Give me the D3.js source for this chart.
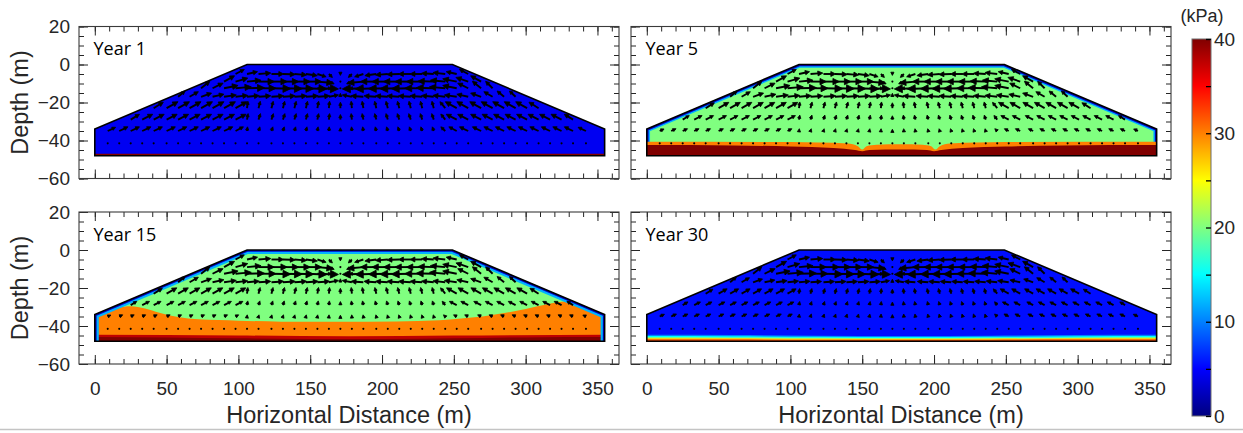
<!DOCTYPE html>
<html><head><meta charset="utf-8">
<script src="https://cdn.jsdelivr.net/npm/d3@7"></script>
<style>body{margin:0;background:#fff;} svg{display:block}</style>
</head><body>
<svg id="chart" width="1243" height="433"></svg>
<script>
// ================= DATA =================
const panelTitles = ["Year 1", "Year 5", "Year 15", "Year 30"];
const xTicks = [0, 50, 100, 150, 200, 250, 300, 350];
const xMinorTicks = [0,10,20,30,40,50,60,70,80,90,100,110,120,130,140,150,160,170,180,190,200,210,220,230,240,250,260,270,280,290,300,310,320,330,340,350,360];
const yTicks = [20, 0, -20, -40, -60];
const yMinorTicks = [20,15,10,5,0,-5,-10,-15,-20,-25,-30,-35,-40,-45,-50,-55,-60];
const cbTicks = [0, 10, 20, 30, 40];
const cbMinorTicks = [0,5,10,15,20,25,30,35,40];

// embankment cross-section (m)
const shapeX = [0, 0, 106, 249, 355, 355];
const shapeD = [-48, -34, 0, 0, -34, -48];

// background pore pressure of each panel (kPa)
const baseValue = [4.5, 20, 20, 5.5];
const drainedEdge = [false, true, true, false];

// Year 1 bands
const y1RedX = [0, 355];
const y1RedD = [-47.0, -47.0];
// Year 5 bands
const y5OrangeX = [0, 100, 140, 147, 150, 153, 160, 177, 192, 198, 201, 204, 211, 250, 355];
const y5OrangeD = [-40.6, -40.8, -41.6, -43, -44.8, -43, -42.2, -42, -42.2, -43, -44.8, -43, -41.6, -40.8, -40.6];
const y5RedX = [0, 60, 100, 130, 145, 150, 155, 177, 195, 200, 205, 220, 250, 290, 355];
const y5RedD = [-42.4, -42.6, -43.2, -44, -45, -45.6, -45, -44.8, -45, -45.6, -45, -44, -43.2, -42.6, -42.4];
// Year 15 bands
const y15OrangeX = [0, 8, 16, 25, 35, 45, 58, 72, 100, 130, 170, 210, 240, 255, 270, 285, 300, 315, 325, 331, 338, 346, 355];
const y15OrangeD = [-35, -32.5, -30.5, -29.6, -30.8, -33, -35.3, -36.5, -37.2, -37.7, -37.8, -37.6, -37, -36, -35, -33.2, -31, -28.5, -27.2, -26.8, -28.5, -31.5, -34.5];
const y15MidX = [0, 100, 177, 250, 355];
const y15MidD = [-44.6, -45, -45.4, -45, -44.6];
const y15RedX = [0, 50, 100, 150, 200, 250, 300, 355];
const y15RedD = [-45.8, -46, -46.5, -46.8, -46.8, -46.5, -46, -45.8];
// Year 30 bands
const y30X = [0, 60, 120, 177, 240, 300, 355];
const y30B10 = [-44.6, -44.7, -45.1, -45.3, -45.1, -44.7, -44.6];
const y30B15 = [-45.3, -45.4, -45.7, -45.8, -45.7, -45.4, -45.3];
const y30B21 = [-45.9, -46.0, -46.2, -46.3, -46.2, -46.0, -45.9];
const y30B27 = [-46.4, -46.5, -46.7, -46.8, -46.7, -46.5, -46.4];
const y30B32 = [-47.0, -47.0, -47.2, -47.2, -47.2, -47.0, -47.0];

// flow vectors: grid columns (m), row depths (m), components (m)
const colX = [9,17,25,33,41,50,58,66,74,82,90,98,106,114,123,131,139,147,155,163,171,179,187,196,204,212,220,228,236,244,252,260,269,277,285,293,301,309,317,325,333,342];
const rowDepth = [-41.5, -35, -29, -23, -17, -12.5, -9, -5];
const _ = null;
const uR0 = [0,0,0,0,0,0,0,0,0,0,0,0,0,0,0,0,0,0,0,0,0,0,0,0,0,0,0,0,0,0,0,0,0,0,0,0,0,0,0,0,0,0];
const vR0 = [0,0,0,0,0,0,0,0,0,0,0,0,0,0,0,0,0,0,0,0,0,0,0,0,0,0,0,0,0,0,0,0,0,0,0,0,0,0,0,0,0,0];
const uR1 = [4.5,5,5,5,5,5,5,5,5,5,5,4.5, 0.3,0.8,0.8,0.8,0.7,0.6,0.4,0.2, 0, -0.2,-0.4,-0.6,-0.7,-0.8,-0.8,-0.8,-0.8, -2.5, -4.5,-5,-5,-5,-5,-5,-5,-5,-5,-5,-5,-4.5];
const vR1 = [1.6,1.8,1.8,1.8,1.8,1.8,1.8,1.8,1.8,1.8,1.8,1.8, 1.8,1.8,1.8,1.8,1.8,1.8,1.8,1.8, 1.4, 1.8,1.8,1.8,1.8,1.8,1.8,1.8,1.8, 1.8, 1.8,1.8,1.8,1.8,1.8,1.8,1.8,1.8,1.8,1.8,1.8,1.6];
const uR2 = [_,_,5,6,6,6,6,6,6,6,6,6, 0.6,1.1,1.1,1.1,1.0,0.9,0.7,0.4, 0, -0.4,-0.7,-0.9,-1,-1.1,-1.1,-1.1,-1.1, -2.5, -6,-6,-6,-6,-6,-6,-6,-6,-6,-6,-5,_];
const vR2 = [_,_,2.3,2.3,2.3,2.3,2.3,2.3,2.3,2.3,2.3,2.3, 2.6,2.6,2.6,2.6,2.6,2.6,2.6,2.6, 2.2, 2.6,2.6,2.6,2.6,2.6,2.6,2.6,2.6, 2.4, 2.3,2.3,2.3,2.3,2.3,2.3,2.3,2.3,2.3,2.3,2.3,_];
const uR3 = [_,_,_,_,5.5,6.5,6.5,6.5,6.5,6.5,6.5,6.5, 0.5,1,1,1,1,0.9,0.7,0.4, 0, -0.4,-0.7,-0.9,-1,-1,-1,-1,-1, -3, -6.5,-6.5,-6.5,-6.5,-6.5,-6.5,-6.5,-5.5,_,_,_,_];
const vR3 = [_,_,_,_,2.6,2.8,2.8,2.8,2.8,2.8,2.8,2.8, 3,3,3,3,3,3,3,3, 2.6, 3,3,3,3,3,3,3,3, 2.8, 2.8,2.8,2.8,2.8,2.8,2.8,2.8,2.6,_,_,_,_];
const uR4 = [_,_,_,_,_,_,4,5,6,6.5,7,7, 7,7,7,7,7,7,7,5.5, 0, -5.5,-7,-7,-7,-7,-7,-7,-7, -7, -7,-6.5,-6,-5,-4,-3.5,_,_,_,_,_,_];
const vR4 = [_,_,_,_,_,_,2.5,2.2,1.6,1.1,0.8,0.6, 0.5,0.4,0.4,0.4,0.4,0.4,0.4,0.8, 1.5, 0.8,0.4,0.4,0.4,0.4,0.4,0.4,0.5, 0.6, 0.8,1.1,1.6,2.2,2.5,2.5,_,_,_,_,_,_];
const uR5 = [_,_,_,_,_,_,_,_,5,6,8,9, 10,10,11,11,11,12,12,1.5, 0, -1.5,-12,-12,-11,-11,-11,-10,-10, -9, -8,-6,-5,-4,_,_,_,_,_,_,_,_];
const vR5 = [_,_,_,_,_,_,_,_,3,2.2,1.2,0.6, 0.2,0,-0.2,-0.2,-0.2,-0.3,-0.3,0, 0, 0,-0.3,-0.3,-0.2,-0.2,-0.2,0,0.2, 0.6, 1.2,2.2,3,3,_,_,_,_,_,_,_,_];
const uR6 = [_,_,_,_,_,_,_,_,_,_,6,7, 8,9,9,9,9,9,9,3, 0, -3,-9,-9,-9,-9,-9,-9,-9, -8.5, -8,-7,-6,_,_,_,_,_,_,_,_,_];
const vR6 = [_,_,_,_,_,_,_,_,_,_,2.5,1.5, 0.6,0,0,0,0,0,-0.6,-1, -0.2, -1,-0.6,0,0,0,0,0,0.2, 0.6, 1.2,1.8,2.5,_,_,_,_,_,_,_,_,_];
const uR7 = [_,_,_,_,_,_,_,_,_,_,_,5, 6,7,7,7,7,6.5,5,2, 0, -2,-5,-6.5,-7,-7,-7,-7,-7, -7, -6,-5,_,_,_,_,_,_,_,_,_,_];
const vR7 = [_,_,_,_,_,_,_,_,_,_,_,2, 1,0.4,0,-0.2,-0.4,-0.7,-1.2,-1.5, -0.6, -1.5,-1.2,-0.7,-0.4,-0.2,0,0,0.3, 0.6, 1,2,_,_,_,_,_,_,_,_,_,_];
// relative arrow magnitude of each row, per panel
const rowScaleY1 = [1, 1, 1, 1, 1, 1, 1, 1];
const rowScaleY5 = [1, 0.55, 0.75, 0.9, 1, 1, 1, 1];
const rowScaleY15 = [1, 0.4, 0.7, 0.9, 1, 1, 1, 1];
const rowScaleY30 = [1, 0.6, 0.6, 0.75, 0.9, 1, 1, 1];

// ================= DRAWING =================
const ARROW_GAIN = 1.22;   // display scaling of the vectors (quiver auto-scale)
const uRows = [uR0, uR1, uR2, uR3, uR4, uR5, uR6, uR7];
const vRows = [vR0, vR1, vR2, vR3, vR4, vR5, vR6, vR7];
const rowScales = [rowScaleY1, rowScaleY5, rowScaleY15, rowScaleY30];
const zip = (a, b) => a.map((x, i) => [x, b[i]]);
const bands = [
  [{x: y1RedX, d: y1RedD, v: 40}],
  [{x: y5OrangeX, d: y5OrangeD, v: 30}, {x: y5RedX, d: y5RedD, v: 40}],
  [{x: y15OrangeX, d: y15OrangeD, v: 30}, {x: y15MidX, d: y15MidD, v: 37.5}, {x: y15RedX, d: y15RedD, v: 40}],
  [{x: y30X, d: y30B10, v: 10}, {x: y30X, d: y30B15, v: 15}, {x: y30X, d: y30B21, v: 21}, {x: y30X, d: y30B27, v: 27}, {x: y30X, d: y30B32, v: 32}]
];

function jet(val) {
  const t = val / 40;
  const f = x => Math.max(0, Math.min(1, x));
  const r = f(1.5 - Math.abs(4 * t - 3)), g = f(1.5 - Math.abs(4 * t - 2)), b = f(1.5 - Math.abs(4 * t - 1));
  return d3.rgb(r * 255, g * 255, b * 255).formatHex();
}

const FONT = "'Liberation Sans', Arial, Helvetica, sans-serif";
const TXT = "#262626";
const W = 540, H = 152;
const colLeft = [79, 631], rowTop = [26.5, 212];
const panelCol = [0, 1, 0, 1], panelRow = [0, 0, 1, 1];

const xs = d3.scaleLinear().domain([-11, 365]).range([0, W]);
const ys = d3.scaleLinear().domain([-60, 20]).range([H, 0]);
const svg = d3.select("#chart");
const line = d3.line().x(d => xs(d[0])).y(d => ys(d[1]));
const area = d3.area().x(d => xs(d[0])).y0(ys(-60)).y1(d => ys(d[1])).curve(d3.curveMonotoneX);
const shapePts = zip(shapeX, shapeD);

panelTitles.forEach((title, i) => {
  const g = svg.append("g").attr("transform", `translate(${colLeft[panelCol[i]]},${rowTop[panelRow[i]]})`);
  const cid = "clip" + i;
  g.append("clipPath").attr("id", cid).append("path").attr("d", line(shapePts) + "Z");
  const fg = g.append("g").attr("clip-path", `url(#${cid})`);
  fg.append("path").attr("d", line(shapePts) + "Z").attr("fill", jet(baseValue[i]));

  const drawBands = () => bands[i].forEach(b => {
    fg.append("path").attr("d", area(zip(b.x, b.d))).attr("fill", jet(b.v));
  });
  const drawDrain = () => {
    if (!drainedEdge[i]) return;
    fg.append("path").attr("d", line(shapePts)).attr("fill", "none")
      .attr("stroke", jet(12)).attr("stroke-width", i === 2 ? 8 : 6.5).attr("stroke-linejoin", "miter");
    fg.append("path").attr("d", line(shapePts)).attr("fill", "none")
      .attr("stroke", jet(3)).attr("stroke-width", 3.6).attr("stroke-linejoin", "miter");
  };
  if (i === 1) { drawDrain(); drawBands(); } else { drawBands(); drawDrain(); }

  // arrows
  const ag = g.append("g");
  rowDepth.forEach((dep, r) => {
    const sc = rowScales[i][r] * ARROW_GAIN;
    colX.forEach((cx, k) => {
      const u = uRows[r][k], v = vRows[r][k];
      if (u === null || v === null) return;
      const x1 = xs(cx), y1 = ys(dep);
      const x2 = xs(cx + u * sc), y2 = ys(dep + v * sc);
      const dx = x2 - x1, dy = y2 - y1, L = Math.hypot(dx, dy);
      if (L < 1.2) {
        ag.append("circle").attr("cx", x1).attr("cy", y1).attr("r", 1.05).attr("fill", "#000");
        return;
      }
      const ux = dx / L, uy = dy / L;
      const h = Math.min(8, Math.max(3.2, 0.4 * L)), w = h * 0.5;
      const bx = x2 - ux * h, by = y2 - uy * h;
      ag.append("line").attr("x1", x1).attr("y1", y1).attr("x2", bx + ux * 0.5).attr("y2", by + uy * 0.5)
        .attr("stroke", "#000").attr("stroke-width", 1.9);
      ag.append("path").attr("d", `M${x2},${y2}L${bx - uy * w},${by + ux * w}L${bx + uy * w},${by - ux * w}Z`)
        .attr("fill", "#000").attr("stroke", "#000").attr("stroke-width", 0.8).attr("stroke-linejoin", "round");
    });
  });

  // outline
  g.append("path").attr("d", line(shapePts) + "Z").attr("fill", "none")
    .attr("stroke", "#000").attr("stroke-width", 1.6).attr("stroke-linejoin", "miter");

  // axes box + ticks
  const styleAxis = sel => {
    sel.select(".domain").remove();
    sel.selectAll(".tick line").attr("stroke", TXT).attr("stroke-width", 1);
    sel.selectAll("text").attr("fill", TXT).attr("font-family", FONT).attr("font-size", 19);
  };
  g.append("g").call(d3.axisTop(xs).tickValues(xMinorTicks).tickSize(-5).tickFormat("")).call(styleAxis);
  g.append("g").call(d3.axisTop(xs).tickValues(xTicks).tickSize(-9).tickFormat("")).call(styleAxis);
  g.append("g").attr("transform", `translate(0,${H})`).call(d3.axisBottom(xs).tickValues(xMinorTicks).tickSize(-5).tickFormat("")).call(styleAxis);
  g.append("g").attr("transform", `translate(0,${H})`).call(d3.axisBottom(xs).tickValues(xTicks).tickSize(-9).tickFormat("")).call(styleAxis);
  g.append("g").call(d3.axisLeft(ys).tickValues(yMinorTicks).tickSize(-5).tickFormat("")).call(styleAxis);
  g.append("g").call(d3.axisLeft(ys).tickValues(yTicks).tickSize(-9).tickFormat("")).call(styleAxis);
  g.append("g").attr("transform", `translate(${W},0)`).call(d3.axisRight(ys).tickValues(yMinorTicks).tickSize(-5).tickFormat("")).call(styleAxis);
  g.append("g").attr("transform", `translate(${W},0)`).call(d3.axisRight(ys).tickValues(yTicks).tickSize(-9).tickFormat("")).call(styleAxis);
  g.append("rect").attr("x", 0).attr("y", 0).attr("width", W).attr("height", H)
    .attr("fill", "none").attr("stroke", "#3a3a3a").attr("stroke-width", 1.1);

  if (panelCol[i] === 0) {
    g.append("g").call(d3.axisLeft(ys).tickValues(yTicks).tickSize(0).tickPadding(9).tickFormat(d3.format("d"))).call(styleAxis);
    g.append("text").attr("transform", `translate(${20 - colLeft[0]},${H / 2}) rotate(-90)`)
      .attr("text-anchor", "middle").attr("dy", "0.35em").attr("fill", TXT)
      .attr("font-family", FONT).attr("font-size", 23.5).text("Depth (m)");
  }
  if (panelRow[i] === 1) {
    g.append("g").attr("transform", `translate(0,${H})`)
      .call(d3.axisBottom(xs).tickValues(xTicks).tickSize(0).tickPadding(17.5).tickFormat(d3.format("d"))).call(styleAxis);
    g.append("text").attr("x", W / 2).attr("y", 423 - rowTop[1]).attr("text-anchor", "middle")
      .attr("fill", TXT).attr("font-family", FONT).attr("font-size", 23.5).text("Horizontal Distance (m)");
  }
  g.append("text").attr("x", 14.5).attr("y", 28.5).attr("fill", "#000")
    .attr("font-family", "'Open Sans', 'Noto Sans', sans-serif").attr("font-size", 18).text(title);
});

// colorbar
const cbX = 1192, cbW = 19, cbTop = 39, cbBot = 416;
const cs = d3.scaleLinear().domain([0, 40]).range([cbBot, cbTop]);
const defs = svg.append("defs");
const grad = defs.append("linearGradient").attr("id", "jetGrad").attr("x1", 0).attr("y1", 1).attr("x2", 0).attr("y2", 0);
d3.range(0, 41, 1).forEach(vv => grad.append("stop").attr("offset", vv / 40).attr("stop-color", jet(vv)));
svg.append("rect").attr("x", cbX).attr("y", cbTop).attr("width", cbW).attr("height", cbBot - cbTop)
  .attr("fill", "url(#jetGrad)").attr("stroke", "#6e6e6e").attr("stroke-width", 1);
const cbAxis = svg.append("g").attr("transform", `translate(${cbX + cbW},0)`);
cbAxis.call(d3.axisRight(cs).tickValues(cbMinorTicks).tickSize(-5).tickFormat(""));
cbAxis.select(".domain").remove();
cbAxis.selectAll(".tick line").attr("stroke", "#000").attr("stroke-width", 1.3);
const cbLab = svg.append("g").attr("transform", `translate(${cbX + cbW},0)`);
cbLab.call(d3.axisRight(cs).tickValues(cbTicks).tickSize(0).tickPadding(3).tickFormat(d3.format("d")));
cbLab.select(".domain").remove();
cbLab.selectAll("text").attr("fill", TXT).attr("font-family", FONT).attr("font-size", 19);
svg.append("text").attr("x", 1202).attr("y", 21.5).attr("text-anchor", "middle").attr("fill", TXT)
  .attr("font-family", FONT).attr("font-size", 18).text("(kPa)");

// thin separator line at the bottom of the figure
svg.append("line").attr("x1", 0).attr("x2", 1243).attr("y1", 429.5).attr("y2", 429.5)
  .attr("stroke", "#c4c4c4").attr("stroke-width", 1.5);
</script>
</body></html>
